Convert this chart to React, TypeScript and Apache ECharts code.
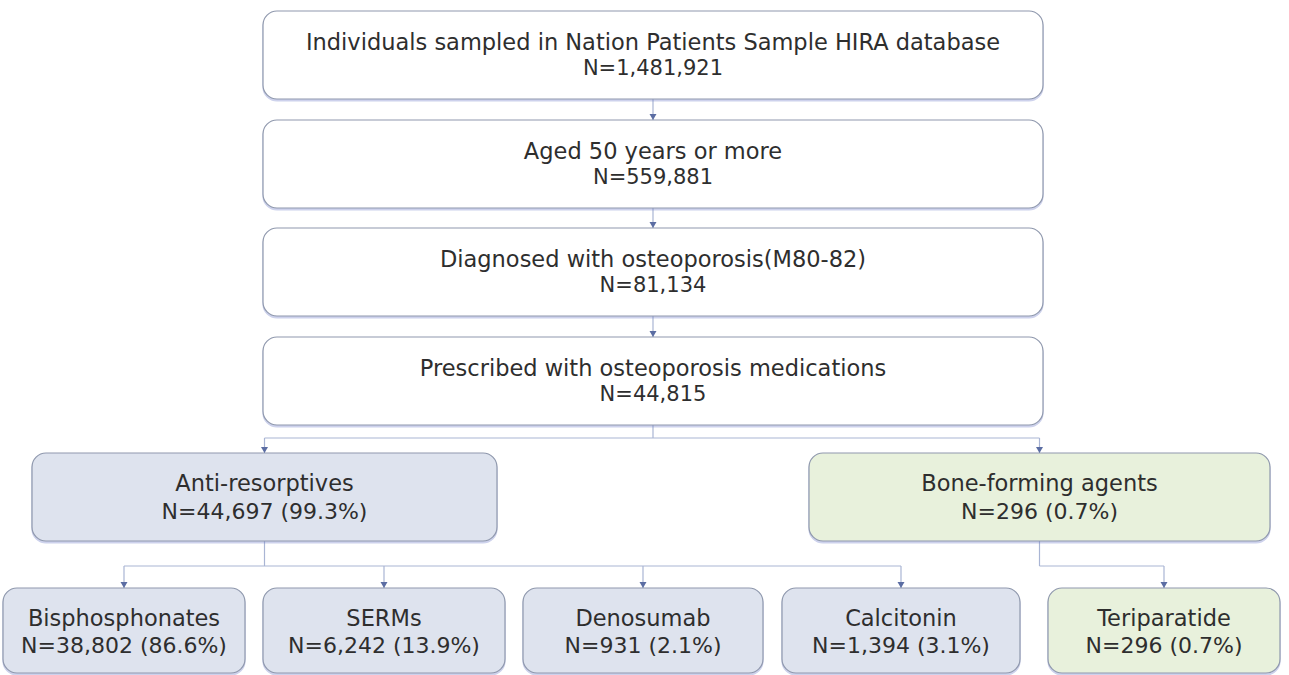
import React, { useEffect, useRef } from "react";
import * as echarts from "echarts";

const stageLabels = [
  "Individuals sampled in Nation Patients Sample HIRA database",
  "Aged 50 years or more",
  "Diagnosed with osteoporosis(M80-82)",
  "Prescribed with osteoporosis medications",
];
const stageCounts = ["N=1,481,921", "N=559,881", "N=81,134", "N=44,815"];
const groupLabels = ["Anti-resorptives", "Bone-forming agents"];
const groupCounts = ["N=44,697 (99.3%)", "N=296 (0.7%)"];
const drugLabels = ["Bisphosphonates", "SERMs", "Denosumab", "Calcitonin", "Teriparatide"];
const drugCounts = ["N=38,802 (86.6%)", "N=6,242 (13.9%)", "N=931 (2.1%)", "N=1,394 (3.1%)", "N=296 (0.7%)"];
const drugGroup = [0, 0, 0, 0, 1];

const FONT_FAMILY = "'DejaVu Sans', 'Open Sans', sans-serif";
const TEXT_COLOR = "#2e2e2e";
const BORDER = "#8f98ad";
const LINE = "#a9b5d4";
const ARROW = "#5b6da3";
const FILL_WHITE = "#ffffff";
const FILL_BLUE = "#dee3ee";
const FILL_GREEN = "#e8f1dc";

type Box = { x: number; y: number; w: number; h: number };

function boxEl(
  b: Box,
  fill: string,
  label: string,
  count: string,
  labelSize: number,
  countSize: number,
  gap: number,
  dy: number
) {
  const cx = b.x + b.w / 2;
  const cy = b.y + b.h / 2 + dy;
  const txt = (t: string, y: number, size: number) => ({
    type: "text",
    style: {
      text: t,
      x: cx,
      y,
      align: "center",
      verticalAlign: "middle",
      fill: TEXT_COLOR,
      font: `${size}px ${FONT_FAMILY}`,
    },
    z: 3,
  });
  return [
    {
      type: "rect",
      shape: { x: b.x, y: b.y, width: b.w, height: b.h, r: 14 },
      style: {
        fill,
        stroke: BORDER,
        lineWidth: 1.2,
        shadowColor: "rgba(110,125,200,0.35)",
        shadowOffsetY: 2,
        shadowBlur: 1,
      },
      z: 2,
    },
    txt(label, cy - gap / 2, labelSize),
    txt(count, cy + gap / 2, countSize),
  ];
}

function seg(x1: number, y1: number, x2: number, y2: number) {
  return {
    type: "line",
    shape: { x1, y1, x2, y2 },
    style: { stroke: LINE, lineWidth: 1.2 },
    z: 1,
  };
}

function arrow(x: number, y: number) {
  return {
    type: "polygon",
    shape: { points: [[x - 3.5, y - 6], [x + 3.5, y - 6], [x, y]] },
    style: { fill: ARROW },
    z: 4,
  };
}

export default function App() {
  const ref = useRef<HTMLDivElement>(null);
  useEffect(() => {
    document.body.style.margin = "0";
    const chart = echarts.init(ref.current!, null, { renderer: "svg" });

    const stageBoxes: Box[] = [11, 120, 228, 337].map((y) => ({ x: 263, y, w: 780, h: 88 }));
    const groupBoxes: Box[] = [
      { x: 32, y: 453, w: 465, h: 88 },
      { x: 809, y: 453, w: 461, h: 88 },
    ];
    const drugBoxes: Box[] = [
      { x: 3, y: 588, w: 242, h: 85 },
      { x: 263, y: 588, w: 242, h: 85 },
      { x: 523, y: 588, w: 240, h: 85 },
      { x: 782, y: 588, w: 238, h: 85 },
      { x: 1048, y: 588, w: 232, h: 85 },
    ];

    const els: any[] = [];
    stageBoxes.forEach((b, i) => {
      els.push(...boxEl(b, FILL_WHITE, stageLabels[i], stageCounts[i], 22.5, 21, 26, 0));
      if (i > 0) {
        const prev = stageBoxes[i - 1];
        const cx = b.x + b.w / 2;
        els.push(seg(cx, prev.y + prev.h, cx, b.y));
        els.push(arrow(cx, b.y));
      }
    });

    const last = stageBoxes[stageBoxes.length - 1];
    const mainCx = last.x + last.w / 2;
    const splitY = 438;
    const gCx = groupBoxes.map((g) => g.x + g.w / 2);
    els.push(seg(mainCx, last.y + last.h, mainCx, splitY));
    els.push(seg(gCx[0], splitY, gCx[1], splitY));
    groupBoxes.forEach((g, i) => {
      els.push(seg(gCx[i], splitY, gCx[i], g.y));
      els.push(arrow(gCx[i], g.y));
      els.push(...boxEl(g, i === 0 ? FILL_BLUE : FILL_GREEN, groupLabels[i], groupCounts[i], 22.5, 22, 28, 0));
    });

    const split2 = 566;
    [0, 1].forEach((gi) => {
      const g = groupBoxes[gi];
      const kids = drugBoxes.map((d, j) => ({ d, j })).filter((o) => drugGroup[o.j] === gi);
      const xs = kids.map((o) => o.d.x + o.d.w / 2);
      els.push(seg(gCx[gi], g.y + g.h, gCx[gi], split2));
      els.push(seg(Math.min(gCx[gi], ...xs), split2, Math.max(gCx[gi], ...xs), split2));
      xs.forEach((x) => {
        els.push(seg(x, split2, x, 588));
        els.push(arrow(x, 588));
      });
    });

    drugBoxes.forEach((d, i) => {
      els.push(
        ...boxEl(d, drugGroup[i] === 0 ? FILL_BLUE : FILL_GREEN, drugLabels[i], drugCounts[i], 22.5, 22, 28, 1)
      );
    });

    chart.setOption({ animation: false, graphic: { elements: els } });
    return () => chart.dispose();
  }, []);
  return <div ref={ref} style={{ width: 1289, height: 675, background: "#fff" }} />;
}
